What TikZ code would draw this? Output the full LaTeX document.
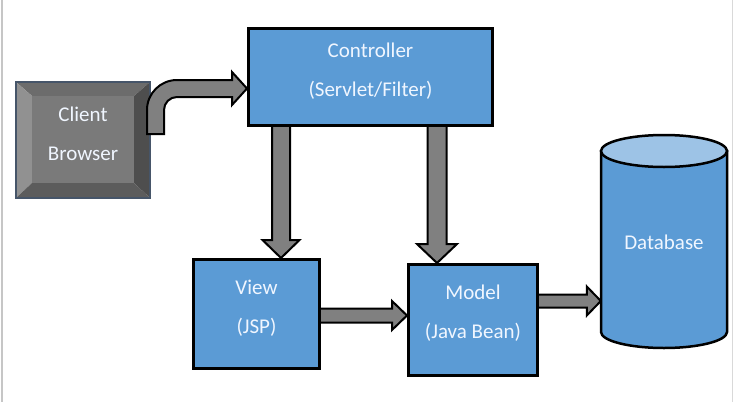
\documentclass[tikz,border=0pt]{standalone}
\usepackage{fontspec}
\setmainfont{Carlito}
\usetikzlibrary{calc}
\pgfdeclarelayer{background}
\pgfsetlayers{background,main}
\definecolor{boxblue}{RGB}{91,155,213}
\definecolor{toplight}{RGB}{157,195,230}
\definecolor{arrowgray}{RGB}{128,128,128}
\definecolor{txtcol}{RGB}{240,246,255}
\definecolor{bevelborder}{RGB}{70,85,105}
\definecolor{bvface}{RGB}{122,122,122}
\definecolor{bvtop}{RGB}{108,108,108}
\definecolor{bvleft}{RGB}{145,145,145}
\definecolor{bvright}{RGB}{78,78,78}
\definecolor{bvbottom}{RGB}{92,92,92}
\newcommand\BlockDown[5]{%
  \draw[barrow] let \p1=(#1), \p2=(#2) in
   (\x1-#3,\y1) -- (\x1-#3,\y2+#5) -- (\x1-#4,\y2+#5) -- (\x1,\y2) --
   (\x1+#4,\y2+#5) -- (\x1+#3,\y2+#5) -- (\x1+#3,\y1) -- cycle;}
\newcommand\BlockRight[5]{%
  \draw[barrow] let \p1=(#1), \p2=(#2) in
   (\x1,\y1+#3) -- (\x2-#5,\y1+#3) -- (\x2-#5,\y1+#4) -- (\x2,\y1) --
   (\x2-#5,\y1-#4) -- (\x2-#5,\y1-#3) -- (\x1,\y1-#3) -- cycle;}
\begin{document}
\begin{tikzpicture}[x=1pt,y=-1pt,
  box/.style={draw=black, line width=3pt, fill=boxblue, inner sep=0pt},
  txt/.style={text=txtcol, align=center, font=\fontsize{21}{39}\selectfont, inner sep=0pt},
  barrow/.style={draw=black, line width=2pt, fill=arrowgray, line join=miter}]
\useasboundingbox (0,0) rectangle (740,402);
% boxes
\node[box, minimum width=244, minimum height=97] (ctrl) at (370.5,77) {};
\node[txt] (ctrltxt) at (370.5,71.5) {Controller\\(Servlet/Filter)};
\node[box, minimum width=126, minimum height=109] (view) at (256.5,314) {};
\node[txt] (viewtxt) at (256.5,308.5) {View\\(JSP)};
\node[box, minimum width=129, minimum height=111] (model) at (473,320) {};
\node[txt] (modeltxt) at (473,313.5) {Model\\(Java Bean)};
% client browser (bevel)
\fill[bvtop] (16,82) -- (150,82) -- (134,96) -- (32,96) -- cycle;
\fill[bvleft] (16,82) -- (32,96) -- (32,183) -- (16,198) -- cycle;
\fill[bvright] (150,82) -- (150,198) -- (134,183) -- (134,96) -- cycle;
\fill[bvbottom] (16,198) -- (150,198) -- (134,183) -- (32,183) -- cycle;
\fill[bvface] (32,96) rectangle (134,183);
\draw[bevelborder, line width=1.2pt] (16,82) rectangle (150,198);
\node[minimum width=134, minimum height=116, inner sep=0pt] (client) at (83,140) {};
\node[txt] (clienttxt) at (83,134) {Client\\Browser};
% database
\path[draw=black, line width=2.5pt, fill=boxblue]
  (601,151) -- (601,332) .. controls (601,340.8) and (629.2,348) .. (664,348)
  .. controls (698.8,348) and (727,340.8) .. (727,332) -- (727,151) -- cycle;
\draw[black, line width=2.5pt, fill=toplight] (664,151) ellipse [x radius=63, y radius=16];
\node[minimum width=126, minimum height=213, inner sep=0pt] (db) at (664,241.5) {};
\node[txt] (dbtxt) at (664,242) {Database};
% curved arrow client -> controller
\draw[barrow] (147,134) -- (147,110) .. controls (147,93.4) and (160.4,80) .. (177,80)
  -- (232,80) -- (232,72) -- (ctrl.west |- 0,88.5) -- (232,105) -- (232,97) -- (177,97)
  .. controls (169.8,97) and (164,102.8) .. (164,110) -- (164,134) -- cycle;
% straight block arrows
\coordinate (a1s) at ($(ctrl.south west)+(34,-2)$);
\coordinate (a1e) at (a1s |- view.north);
\coordinate (a2s) at ($(ctrl.south west)+(190,-2)$);
\coordinate (a2e) at (a2s |- model.north);
\coordinate (a3s) at ($(view.east)+(-2,1.5)$);
\coordinate (a3e) at (a3s -| model.west);
\coordinate (a4s) at ($(model.east)+(-2,-19)$);
\coordinate (a4e) at (a4s -| db.west);
\begin{pgfonlayer}{background}
\fill[white] (0,0) rectangle (740,402);
\draw[gray!45, line width=1.5pt] (2,0) -- (2,402);
\draw[gray!30, line width=1.5pt] (732.5,0) -- (732.5,402);
\BlockDown{a1s}{a1e}{9pt}{18.5pt}{18pt}
\BlockDown{a2s}{a2e}{9.5pt}{20pt}{19pt}
\BlockRight{a3s}{a3e}{7pt}{14.5pt}{15pt}
\BlockRight{a4s}{a4e}{6.5pt}{14.5pt}{14pt}
\end{pgfonlayer}
\end{tikzpicture}
\end{document}
